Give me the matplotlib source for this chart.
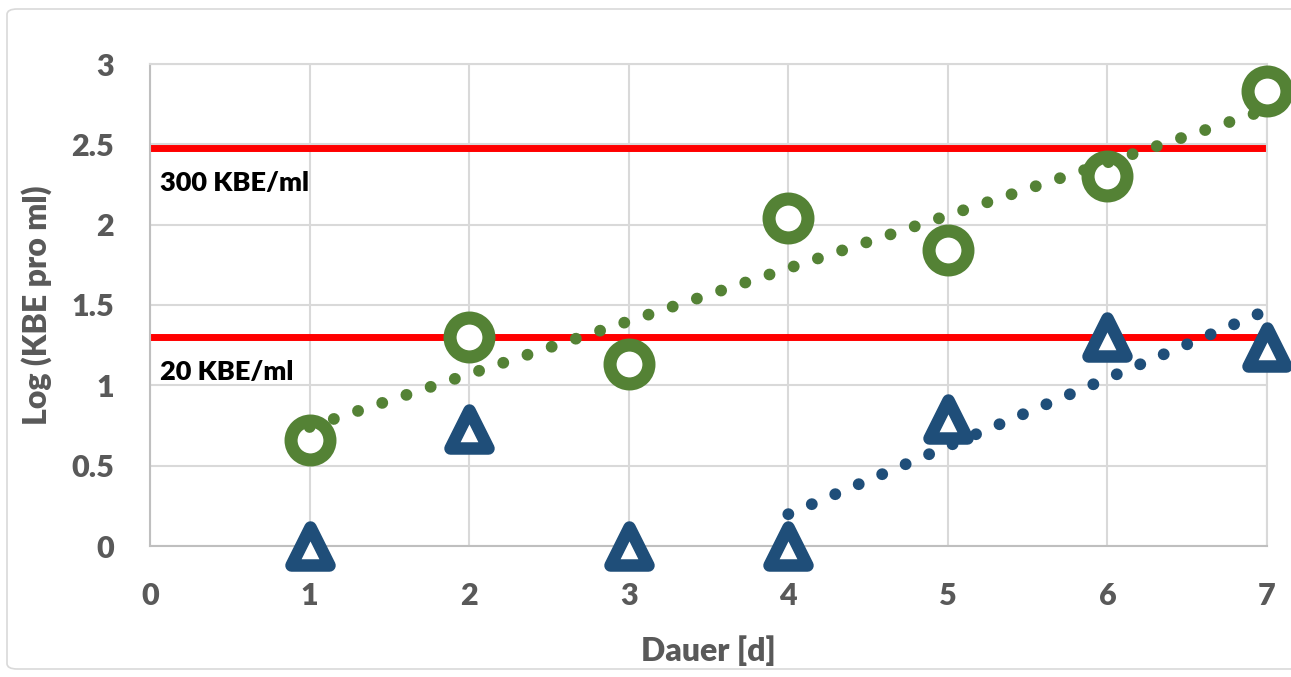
import numpy as np
import matplotlib
matplotlib.use('Agg')
from matplotlib import pyplot as plt
from matplotlib.markers import MarkerStyle
from matplotlib.patches import FancyBboxPatch

days = [1, 2, 3, 4, 5, 6, 7]
green_vals = [0.66, 1.30, 1.13, 2.04, 1.84, 2.30, 2.83]
blue_vals = [0.0, 0.73, 0.0, 0.0, 0.79, 1.30, 1.24]
limit_vals = [np.log10(300), np.log10(20)]
limit_labels = ['300 KBE/ml', '20 KBE/ml']

GREEN = '#548235'
BLUE = '#1F4E79'
GRAY = '#595959'

plt.rcParams['font.family'] = ['Lato', 'DejaVu Sans']
plt.rcParams['font.weight'] = 'heavy'

fig = plt.figure(figsize=(12.91, 6.77), dpi=100)
ax = fig.add_axes([150/1291, 1-546/677, (1267-150)/1291, (546-64)/677])

border = FancyBboxPatch((7/1291, 8/677), 1300/1291, 660/677,
                        boxstyle='round,pad=0,rounding_size=0.008',
                        transform=fig.transFigure, fill=False,
                        edgecolor='#D9D9D9', linewidth=1.2, zorder=0)
fig.patches.append(border)

# grenzwerte
for val, lab in zip(limit_vals, limit_labels):
    ax.plot([0, 7], [val, val], color='#FF0000', lw=5, solid_capstyle='round', zorder=2)
    ax.annotate(lab, xy=(0, val), xytext=(7, -25), textcoords='offset points',
                ha='left', va='center', fontsize=19.5, fontweight='heavy', color='black')

# messwerte
ax.plot(days, green_vals, linestyle='none', marker='o', ms=28, mew=9.4,
        mfc='white', mec=GREEN, zorder=3, clip_on=False)
tri = MarkerStyle('^', joinstyle='round')
ax.plot(days, blue_vals, linestyle='none', marker=tri, ms=27, mew=9,
        mfc='white', mec=BLUE, zorder=3, clip_on=False)

# trendlinien
k, d = np.polyfit(days, green_vals, 1)
xs = np.array([days[0], days[-1]])
ax.plot(xs, k*xs + d, color=GREEN, lw=8.5, linestyle=(0, (0.01, 2.15)),
        dash_capstyle='round', zorder=4, clip_on=False)
k2, d2 = np.polyfit(days[3:], blue_vals[3:], 1)
xs2 = np.array([days[3], days[-1]])
ax.plot(xs2, k2*xs2 + d2, color=BLUE, lw=8.5, linestyle=(0, (0.01, 2.15)),
        dash_capstyle='round', zorder=4, clip_on=False)

ax.set_xlim(0, 7)
ax.set_ylim(0, 3)
ax.set_xticks(range(0, 8))
ax.set_yticks([0, 0.5, 1, 1.5, 2, 2.5, 3])
ax.set_yticklabels(['0', '0.5', '1', '1.5', '2', '2.5', '3'])
ax.grid(True, color='#D9D9D9', lw=1.5, zorder=0)
ax.set_axisbelow(True)
for s in ax.spines.values():
    s.set_color('#D9D9D9')
    s.set_linewidth(1.5)
ax.spines['left'].set_color('#BFBFBF')
ax.spines['bottom'].set_color('#BFBFBF')
ax.tick_params(length=0, labelsize=22, labelcolor=GRAY)
for t in ax.get_xticklabels() + ax.get_yticklabels():
    t.set_fontweight('heavy')
ax.tick_params(axis='x', pad=26)
ax.tick_params(axis='y', pad=26)

ax.set_xlabel('Dauer [d]', fontsize=23, fontweight='heavy', color=GRAY, labelpad=18)
ax.set_ylabel('Log (KBE pro ml)', fontsize=23, fontweight='heavy', color=GRAY, labelpad=14)

fig.savefig('out.png', dpi=100)
